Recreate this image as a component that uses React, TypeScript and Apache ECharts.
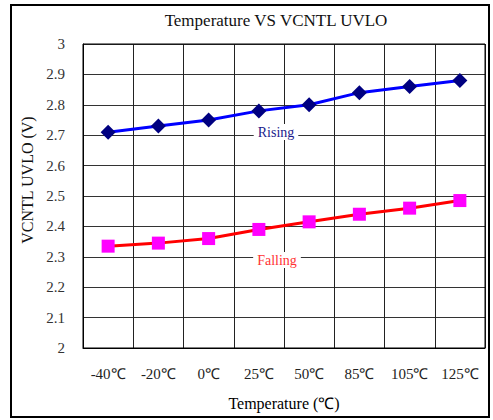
import React, { useEffect, useRef } from "react";
import * as echarts from "echarts";

const categories = ["-40℃", "-20℃", "0℃", "25℃", "50℃", "85℃", "105℃", "125℃"];
const rising = [2.71, 2.73, 2.75, 2.78, 2.8, 2.84, 2.86, 2.88];
const falling = [2.335, 2.345, 2.36, 2.39, 2.415, 2.44, 2.46, 2.485];
const yTicks = { min: 2, max: 3, interval: 0.1 };

export default function App() {
  const ref = useRef<HTMLDivElement>(null);
  useEffect(() => {
    document.body.style.margin = "0";
    const chart = echarts.init(ref.current!, null, { renderer: "svg" });
    const font = "Liberation Serif";
    chart.setOption({
      animation: false,
      backgroundColor: "#fff",
      textStyle: { fontFamily: font },
      grid: { left: 83, right: 8, top: 44, bottom: 72 },
      xAxis: {
        type: "category",
        data: categories,
        boundaryGap: true,
        name: "Temperature (℃)",
        nameLocation: "middle",
        nameGap: 47,
        nameTextStyle: { fontFamily: font, fontSize: 16, color: "#000" },
        axisLine: { show: true, lineStyle: { color: "#000", width: 1 } },
        axisTick: { show: false },
        axisLabel: { fontFamily: font, fontSize: 15, color: "#222", margin: 18 },
        splitLine: { show: true, interval: 0, lineStyle: { color: "#222", width: 1 } },
      },
      yAxis: {
        type: "value",
        min: yTicks.min,
        max: yTicks.max,
        interval: yTicks.interval,
        axisLine: { show: true, lineStyle: { color: "#000", width: 1 } },
        axisTick: { show: false },
        axisLabel: {
          fontFamily: font,
          fontSize: 15,
          color: "#333",
          margin: 18,
          formatter: (v: number) => String(Math.round(v * 10) / 10),
        },
        splitLine: { show: true, lineStyle: { color: "#333", width: 1 } },
      },
      graphic: [
        {
          type: "rect",
          shape: { x: 11, y: 5, width: 478, height: 412 },
          style: { fill: "none", stroke: "#000", lineWidth: 2 },
          z: 100,
        },
        {
          type: "rect",
          shape: { x: 83, y: 44, width: 402, height: 304 },
          style: { fill: "none", stroke: "#000", lineWidth: 1 },
          z: 100,
        },
        {
          type: "text",
          x: 276,
          y: 20,
          style: {
            text: "Temperature VS VCNTL UVLO",
            fill: "#111",
            font: `17px "${font}", serif`,
            align: "center",
            verticalAlign: "middle",
          },
          z: 100,
        },
        {
          type: "text",
          x: 27,
          y: 180,
          rotation: Math.PI / 2,
          style: {
            text: "VCNTL UVLO (V)",
            fill: "#111",
            font: `16px "${font}", serif`,
            align: "center",
            verticalAlign: "middle",
          },
          z: 100,
        },
        {
          type: "text",
          x: 276,
          y: 132,
          style: {
            text: "Rising",
            fill: "#1a1a8c",
            font: `14px "${font}", serif`,
            align: "center",
            verticalAlign: "middle",
            backgroundColor: "#fff",
            padding: [1, 4],
          },
          z: 100,
        },
        {
          type: "text",
          x: 277,
          y: 260,
          style: {
            text: "Falling",
            fill: "#ff3333",
            font: `14px "${font}", serif`,
            align: "center",
            verticalAlign: "middle",
            backgroundColor: "#fff",
            padding: [1, 4],
          },
          z: 100,
        },
      ],
      series: [
        {
          name: "Rising",
          type: "line",
          data: rising,
          symbol: "diamond",
          symbolSize: 15,
          lineStyle: { color: "#0000ff", width: 3 },
          itemStyle: { color: "#000080" },
          z: 5,
        },
        {
          name: "Falling",
          type: "line",
          data: falling,
          symbol: "rect",
          symbolSize: 13,
          lineStyle: { color: "#ff0000", width: 3 },
          itemStyle: { color: "#ff00ff" },
          z: 5,
        },
      ],
    });
    return () => chart.dispose();
  }, []);
  return <div ref={ref} style={{ width: 493, height: 420 }} />;
}
